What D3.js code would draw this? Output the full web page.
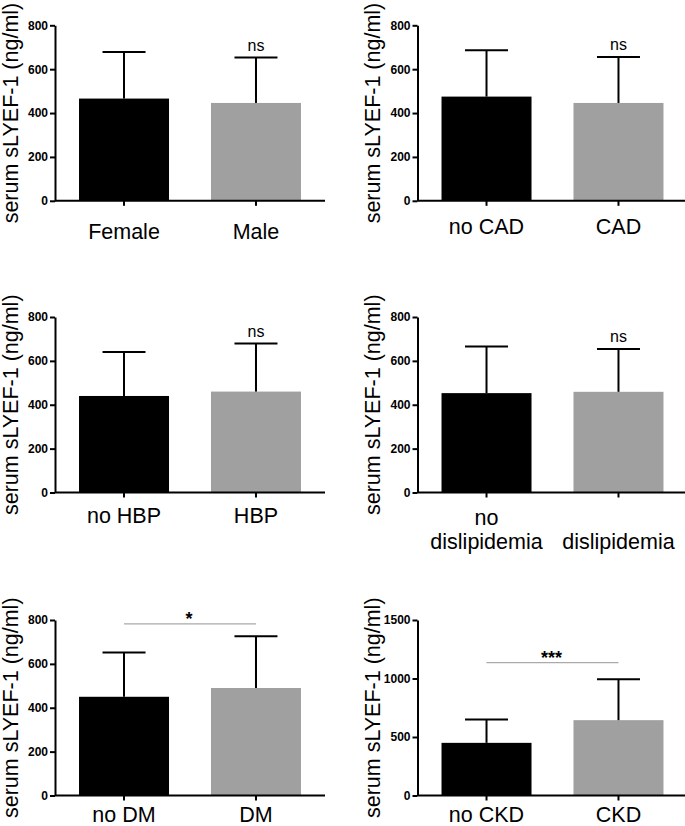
<!DOCTYPE html>
<html>
<head>
<meta charset="utf-8">
<script src="https://cdn.jsdelivr.net/npm/d3@7"></script>
<style>
  html, body { margin: 0; padding: 0; background: #fff; }
  svg { display: block; }
  text { font-family: "Liberation Sans", Arial, Helvetica, sans-serif; }
</style>
</head>
<body>
<svg id="chart" width="685" height="826"></svg>
<script>
// ---------- DATA ----------
const categories = [
  ["Female", "Male"],
  ["no CAD", "CAD"],
  ["no HBP", "HBP"],
  ["no\ndislipidemia", "dislipidemia"],
  ["no DM", "DM"],
  ["no CKD", "CKD"]
];
const means = [
  [466, 446],
  [475, 446],
  [440, 460],
  [453, 459],
  [450, 490],
  [450, 644]
];
const sds = [
  [212, 207],
  [211, 210],
  [200, 219],
  [213, 195],
  [202, 236],
  [200, 349]
];
const yMax = [800, 800, 800, 800, 800, 1500];
const yTicks = [
  [0, 200, 400, 600, 800],
  [0, 200, 400, 600, 800],
  [0, 200, 400, 600, 800],
  [0, 200, 400, 600, 800],
  [0, 200, 400, 600, 800],
  [0, 500, 1000, 1500]
];
const sigLabels = ["ns", "ns", "ns", "ns", "*", "***"];
const sigLineLevel = [null, null, null, null, 782, 1135];
const yLabel = "serum sLYEF-1 (ng/ml)";

// ---------- LAYOUT / STYLE ----------
const barColors = ["#000000", "#a0a0a0"];
const colX = [55, 417.5];
const rowTop = [25.3, 317, 620];
const plotH = 175.5;
const bandW = 270;
const labelDy = [38.5, 33, 30.5, 32.3, 26, 26];
const lineH = 24;

const svg = d3.select("#chart");

categories.forEach((cats, i) => {
  const col = i % 2, row = Math.floor(i / 2);
  const x0 = colX[col], top = rowTop[row], bottom = top + plotH;

  const x = d3.scaleBand().domain(cats).range([x0, x0 + bandW])
    .paddingInner(0.318).paddingOuter(0.182);
  const y = d3.scaleLinear().domain([0, yMax[i]]).range([bottom, top]);

  const g = svg.append("g");

  // bars
  g.selectAll("rect.bar").data(cats).join("rect")
    .attr("x", d => x(d))
    .attr("width", x.bandwidth())
    .attr("y", (d, j) => y(means[i][j]))
    .attr("height", (d, j) => bottom - y(means[i][j]))
    .attr("fill", (d, j) => barColors[j]);

  // error bars (upper only)
  const cap = 43;
  cats.forEach((c, j) => {
    const cx = x(c) + x.bandwidth() / 2;
    const yt = y(means[i][j] + sds[i][j]);
    g.append("line").attr("x1", cx).attr("x2", cx)
      .attr("y1", y(means[i][j])).attr("y2", yt)
      .attr("stroke", "#000").attr("stroke-width", 2);
    g.append("line").attr("x1", cx - cap / 2).attr("x2", cx + cap / 2)
      .attr("y1", yt).attr("y2", yt)
      .attr("stroke", "#000").attr("stroke-width", 2);
  });

  // y axis
  const yAxis = d3.axisLeft(y).tickValues(yTicks[i]).tickFormat(d3.format("d"))
    .tickSize(5).tickSizeOuter(0).tickPadding(2);
  const ya = g.append("g").attr("transform", `translate(${x0},0)`).call(yAxis);
  ya.select(".domain").attr("stroke", "#000").attr("stroke-width", 2);
  ya.selectAll(".tick line").attr("stroke", "#000").attr("stroke-width", 2);
  ya.selectAll(".tick text").attr("font-size", 12).attr("font-weight", "bold")
    .attr("fill", "#000").attr("font-family", '"Liberation Sans", Arial, sans-serif');

  // x axis
  const xAxis = d3.axisBottom(x).tickSize(5).tickSizeOuter(0).tickFormat("");
  const xa = g.append("g").attr("transform", `translate(0,${bottom})`).call(xAxis);
  xa.select(".domain").attr("stroke", "#000").attr("stroke-width", 2)
    .attr("d", `M${x0},0H${x0 + bandW}`);
  xa.selectAll(".tick line").attr("stroke", "#000").attr("stroke-width", 2);

  // x labels (bottom-aligned when some labels wrap)
  const maxLines = d3.max(cats, c => c.split("\n").length);
  cats.forEach(c => {
    const cx = x(c) + x.bandwidth() / 2;
    const lines = c.split("\n");
    const shift = (maxLines - lines.length) * lineH;
    const t = g.append("text").attr("text-anchor", "middle")
      .attr("font-size", 21.5).attr("fill", "#000");
    lines.forEach((ln, k) => {
      t.append("tspan").attr("x", cx)
        .attr("y", bottom + labelDy[i] + shift + k * lineH).text(ln);
    });
  });

  // y label
  g.append("text")
    .attr("transform", `translate(${x0 - 37.5},${(top + bottom) / 2}) rotate(-90)`)
    .attr("text-anchor", "middle").attr("font-size", 21.5).attr("fill", "#000")
    .text(yLabel);

  // significance
  if (sigLineLevel[i] == null) {
    const c = cats[1];
    const cx = x(c) + x.bandwidth() / 2;
    g.append("text").attr("x", cx).attr("y", y(means[i][1] + sds[i][1]) - 7)
      .attr("text-anchor", "middle").attr("font-size", 16).attr("fill", "#000")
      .text(sigLabels[i]);
  } else {
    const c0 = x(cats[0]) + x.bandwidth() / 2;
    const c1 = x(cats[1]) + x.bandwidth() / 2;
    const ly = y(sigLineLevel[i]);
    g.append("line").attr("x1", c0).attr("x2", c1).attr("y1", ly).attr("y2", ly)
      .attr("stroke", "#aaaaaa").attr("stroke-width", 1.2);
    g.append("text").attr("x", (c0 + c1) / 2 - 1).attr("y", ly + 1)
      .attr("text-anchor", "middle").attr("font-size", 18).attr("font-weight", "bold")
      .attr("fill", "#000").text(sigLabels[i]);
  }
});
</script>
</body>
</html>
